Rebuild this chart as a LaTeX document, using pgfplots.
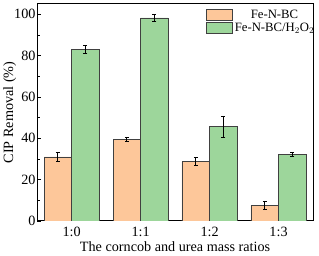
\documentclass[border=0pt]{standalone}
\usepackage{fontspec}
\setmainfont{Liberation Serif}
\usepackage{pgfplots}
\pgfplotsset{compat=1.18}
\definecolor{orb}{HTML}{FDC79A}
\definecolor{grb}{HTML}{9DD69B}
\definecolor{edg}{HTML}{404040}
\begin{document}
\begin{tikzpicture}[font=\fontsize{15}{17}\selectfont]
\begin{axis}[
  scale only axis,
  width=281bp, height=221bp,
  xmin=-0.5, xmax=3.5, ymin=0, ymax=105,
  xtick={0,1,2,3}, xticklabels={1:0,1:1,1:2,1:3},
  ytick={0,20,40,60,80,100},
  minor ytick={10,30,50,70,90},
  tick align=inside,
  xtick style={draw=none},
  ytick pos=left,
  major tick length=4pt, minor tick length=2.5pt,
  axis line style={line width=1pt},
  tick style={line width=0.8pt, black},
  /pgf/number format/assume math mode=true,
  tick label style={font=\fontsize{14.5}{16}\selectfont},
  yticklabel style={inner sep=1.5pt},
  xticklabel style={inner sep=2pt},
  label style={font=\fontsize{14.5}{16}\selectfont},
  ylabel={CIP Removal (\%)},
  xlabel={The corncob and urea mass ratios},
  ylabel style={yshift=-7pt},
  xlabel style={yshift=0pt},
  ybar, bar width=0.4,
  legend style={draw=none, fill=none, at={(0.6,0.99)}, anchor=north west, font=\fontsize{13}{15}\selectfont, row sep=-1pt},
  legend image code/.code={\draw[#1] (0bp,-5bp) rectangle (27bp,6bp);},
]
\addplot[fill=orb, draw=edg, line width=0.6pt, bar shift=-0.2,
  error bars/.cd, y dir=both, y explicit, error bar style={line width=0.8pt, black}, error mark options={rotate=90, mark size=2pt, line width=0.8pt, black}]
  coordinates {(0,31) +- (0,2) (1,39.3) +- (0,1) (2,28.7) +- (0,2) (3,7.5) +- (0,2)};
\addlegendentry{Fe-N-BC}
\addplot[fill=grb, draw=edg, line width=0.6pt, bar shift=0.2,
  error bars/.cd, y dir=both, y explicit, error bar style={line width=0.8pt, black}, error mark options={rotate=90, mark size=2pt, line width=0.8pt, black}]
  coordinates {(0,83) +- (0,2) (1,98.2) +- (0,1.5) (2,45.6) +- (0,5) (3,32) +- (0,1)};
\addlegendentry{Fe-N-BC/H$_2$O$_2$}
\end{axis}
\end{tikzpicture}
\end{document}
